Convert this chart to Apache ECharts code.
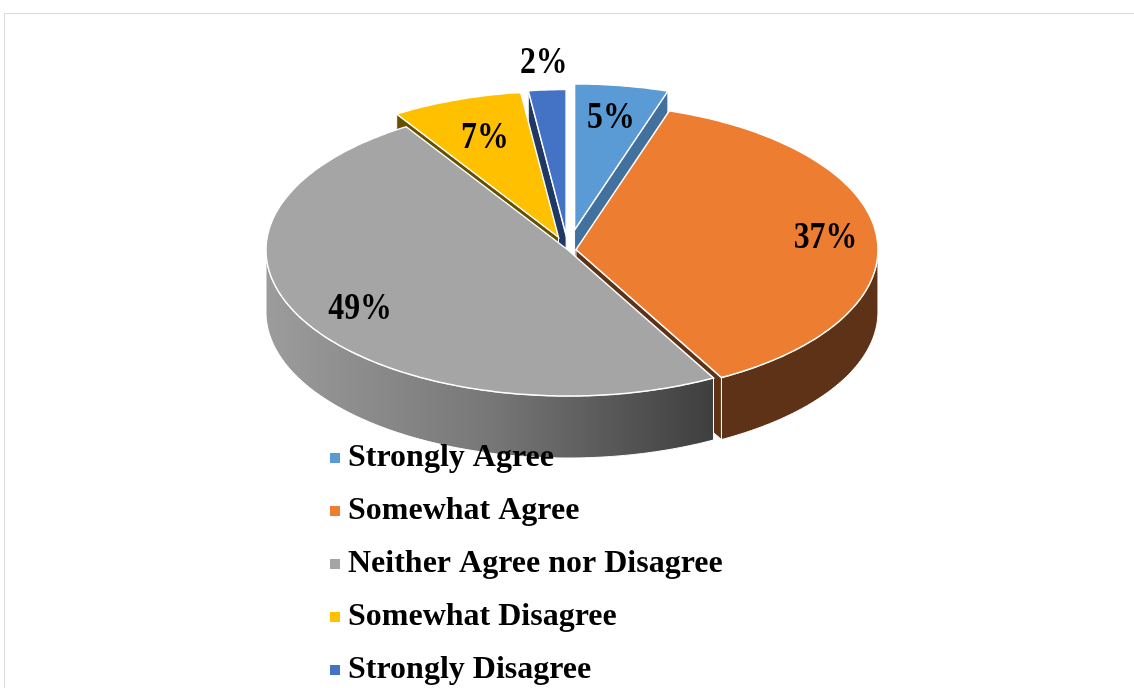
<!DOCTYPE html>
<html>
<head>
<meta charset="utf-8">
<script src="https://cdn.jsdelivr.net/npm/echarts@6/dist/echarts.min.js"></script>
<style>
  html, body { margin: 0; padding: 0; background: #ffffff; }
  #chart { width: 1134px; height: 688px; }
</style>
</head>
<body>
<div id="chart"></div>
<script>
// Survey responses (percent of respondents)
const categories = ['Strongly Agree', 'Somewhat Agree', 'Neither Agree nor Disagree', 'Somewhat Disagree', 'Strongly Disagree'];
const values = [5, 37, 49, 7, 2];

// Appearance of the 3D pie
const topColors  = ['#5B9BD5', '#ED7D31', '#A5A5A5', '#FFC000', '#4472C4'];
const sideColors = ['#41719C', '#5E3217', '#7A7A7A', '#665000', '#203864'];
const explode    = [42, 8, 0, 28, 30];          // pull-out distance of each slice
const labelPos   = [0.77, 0.83, 0.80, 0.72, 1.18]; // label distance, fraction of radius

const CX = 568, CY = 250, RX = 302, RY = 146, DEPTH = 62;
const FONT = '"Liberation Serif", "Times New Roman", serif';

// slice geometry: angles run clockwise from 12 o'clock
const total = values.reduce((s, v) => s + v, 0);
const slices = [];
let acc = 0;
values.forEach((v, i) => {
  const a = acc / total * 2 * Math.PI;
  acc += v;
  const b = acc / total * 2 * Math.PI;
  const m = (a + b) / 2;
  slices.push({ a, b, m, ox: explode[i] * Math.sin(m), oy: -explode[i] * Math.cos(m) * RY / RX });
});

function rim(s, t, dy) { return [CX + s.ox + RX * Math.sin(t), CY + s.oy - RY * Math.cos(t) + (dy || 0)]; }
function vertex(s, dy) { return [CX + s.ox, CY + s.oy + (dy || 0)]; }
function arc(s, t0, t1, dy) {
  const n = Math.max(2, Math.ceil(Math.abs(t1 - t0) / 0.015));
  const pts = [];
  for (let k = 0; k <= n; k++) pts.push(rim(s, t0 + (t1 - t0) * k / n, dy));
  return pts;
}
function maxY(pts) { return Math.max.apply(null, pts.map(p => p[1])); }

function sideFill(i) {
  if (i === 2) {
    return new echarts.graphic.LinearGradient(0, 0, 1, 0, [
      { offset: 0, color: '#9C9C9C' },
      { offset: 0.5, color: '#777777' },
      { offset: 1, color: '#3E3E3E' }
    ]);
  }
  return sideColors[i];
}

// walls of every slice: cut faces and the visible part of the outer rim
function renderWalls(params) {
  const i = params.dataIndex;
  const s = slices[i];
  const children = [];
  const addFace = (pts) => children.push({
    type: 'polygon', z2: Math.round(maxY(pts)),
    shape: { points: pts },
    style: { fill: sideFill(i), stroke: '#ffffff', lineWidth: 1 }
  });
  if (Math.sin(s.a) < -1e-6) addFace([vertex(s, 0), rim(s, s.a, 0), rim(s, s.a, DEPTH), vertex(s, DEPTH)]);
  if (Math.sin(s.b) > 1e-6) addFace([vertex(s, 0), rim(s, s.b, 0), rim(s, s.b, DEPTH), vertex(s, DEPTH)]);
  const t0 = Math.max(s.a, Math.PI / 2), t1 = Math.min(s.b, 3 * Math.PI / 2);
  if (t1 > t0) addFace(arc(s, t0, t1, 0).concat(arc(s, t0, t1, DEPTH).reverse()));
  return { type: 'group', children };
}

// top face and percentage label of one slice
function makeTop(i) {
  return function () {
    const s = slices[i];
    const pts = [vertex(s, 0)].concat(arc(s, s.a, s.b, 0));
    const v = vertex(s, 0);
    const r = labelPos[i];
    return {
      type: 'group',
      children: [
        { type: 'polygon', shape: { points: pts },
          style: { fill: topColors[i], stroke: '#ffffff', lineWidth: 1.5, lineJoin: 'miter' } },
        { type: 'text', z2: 10,
          x: v[0] + RX * r * Math.sin(s.m), y: v[1] - RY * r * Math.cos(s.m), scaleX: 0.86,
          style: { text: values[i] + '%', x: 0, y: 0,
                   align: 'center', verticalAlign: 'middle', fill: '#000000',
                   font: 'bold 37px ' + FONT } }
      ]
    };
  };
}

const chart = echarts.init(document.getElementById('chart'));
chart.setOption({
  animation: false,
  graphic: [{
    type: 'rect', silent: true,
    shape: { x: 4.5, y: 13.5, width: 1200, height: 700 },
    style: { fill: 'none', stroke: '#D9D9D9', lineWidth: 1 }
  }],
  legend: {
    data: categories,
    orient: 'vertical',
    left: 330, top: 442, padding: 0,
    icon: 'rect', itemWidth: 10, itemHeight: 10, itemGap: 21,
    selectedMode: false,
    textStyle: { fontFamily: FONT, fontWeight: 'bold', fontSize: 32, lineHeight: 32, color: '#000000', padding: [0, 0, 0, 3] }
  },
  series: [{
    type: 'custom', name: 'walls', coordinateSystem: 'none', z: 1, silent: true,
    data: values, renderItem: renderWalls
  }].concat(categories.map((name, i) => ({
    type: 'custom', name, coordinateSystem: 'none', z: 2, silent: true,
    itemStyle: { color: topColors[i] },
    data: [values[i]], renderItem: makeTop(i)
  })))
});
</script>
</body>
</html>
